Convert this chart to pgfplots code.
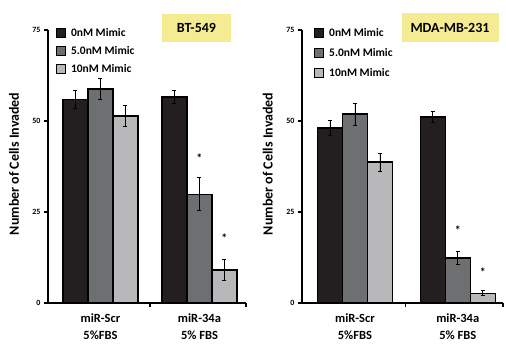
\documentclass[border=0pt]{standalone}
\usepackage{pgfplots}
\pgfplotsset{compat=1.18}
\usepackage{fontspec}
\setmainfont{Carlito}
\definecolor{cBlack}{HTML}{231F20}
\definecolor{cDark}{HTML}{6E6F71}
\definecolor{cLight}{HTML}{B8B8BA}
\definecolor{cYellow}{HTML}{F4EB92}

\pgfplotsset{
  panel/.style={
    scale only axis, height=273pt,
    ymin=0, ymax=75, ytick={0,25,50,75},
    axis x line*=bottom, axis y line*=left,
    axis line style={line width=1.5pt, black},
    tick align=outside, major tick length=4pt,
    ytick style={line width=1.2pt, black},
    xtick={1,2},
    xticklabels={{miR-Scr\\5\%FBS},{miR-34a\\5\% FBS}},
    xticklabel style={align=center, font=\bfseries\fontsize{12.5}{17}\selectfont, yshift=-3pt},
    yticklabel style={font=\bfseries\fontsize{8}{9}\selectfont},
    /pgf/number format/assume math mode=true,
    xtick style={draw=none},
    extra x tick style={xtick style={draw=black, line width=1.2pt}},
    ylabel={Number of Cells Invaded},
    ylabel style={font=\bfseries\fontsize{14}{16}\selectfont, at={(axis description cs:-0.172,0.51)}, anchor=center},
    ybar=0pt, bar width=25pt,
    every axis plot/.append style={draw=black, line width=1.3pt},
    legend image code/.code={\draw[#1, line width=0.6pt] (0pt,-4.5pt) rectangle (9pt,4.5pt); \path (12.5pt,0pt);},
    legend style={draw=none, fill=none, font=\bfseries\fontsize{11.5}{13}\selectfont,
      anchor=north west, inner sep=0pt, legend cell align=left,
      nodes={inner sep=1.5pt, text height=8pt, text depth=1pt}},
  },
  eb/.style={error bars/.cd, y dir=both, y explicit,
      error bar style={line width=0.8pt, black},
      error mark options={rotate=90, mark size=2pt, line width=0.8pt, black}},
}

\begin{document}
\begin{tikzpicture}
\useasboundingbox (0,0) rectangle (506pt,350pt);

\begin{axis}[panel, at={(48pt,47pt)}, anchor=south west, width=198pt,
  xmin=0.47, xmax=2.47, extra x ticks={1.5,2.47}, extra x tick labels={},
  legend style={at={(axis description cs:0.04,1.012)}, row sep=6pt}]
\addplot[fill=cBlack, eb] coordinates {(1,56.0) +- (0,2.5) (2,56.6) +- (0,1.8)};
\addplot[fill=cDark, eb] coordinates {(1,58.8) +- (0,3.0) (2,29.9) +- (0,4.5)};
\addplot[fill=cLight, eb] coordinates {(1,51.4) +- (0,3.0) (2,9.1) +- (0,3.0)};
\legend{0nM Mimic,5.0nM Mimic,10nM Mimic}
\node[font=\bfseries\fontsize{12}{12}\selectfont] at (axis cs:2,39.8) {*};
\node[font=\bfseries\fontsize{12}{12}\selectfont, xshift=25pt] at (axis cs:2,17.9) {*};
\end{axis}

\begin{axis}[panel, at={(302pt,47pt)}, anchor=south west, width=201pt,
  xmin=0.485, xmax=2.44, extra x ticks={1.495,2.44}, extra x tick labels={},
  ylabel style={at={(axis description cs:-0.17,0.51)}},
  legend style={at={(axis description cs:0.06,1.012)}, row sep=8pt}]
\addplot[fill=cBlack, eb] coordinates {(1,48.1) +- (0,2.0) (2,51.1) +- (0,1.6)};
\addplot[fill=cDark, eb] coordinates {(1,51.9) +- (0,3.0) (2,12.4) +- (0,1.7)};
\addplot[fill=cLight, eb] coordinates {(1,38.7) +- (0,2.5) (2,2.7) +- (0,0.7)};
\legend{0nM Mimic,5.0nM Mimic,10nM Mimic}
\node[font=\bfseries\fontsize{12}{12}\selectfont] at (axis cs:2,20.0) {*};
\node[font=\bfseries\fontsize{12}{12}\selectfont, xshift=25pt] at (axis cs:2,8.5) {*};
\end{axis}

\node[fill=cYellow, minimum width=69pt, minimum height=28pt, inner sep=0pt,
  font=\bfseries\fontsize{14}{14}\selectfont] at (196.5pt,322pt) {BT-549};
\node[fill=cYellow, minimum width=97pt, minimum height=29pt, inner sep=0pt,
  font=\bfseries\fontsize{14}{14}\selectfont] at (450pt,322pt) {MDA-MB-231};
\end{tikzpicture}
\end{document}
